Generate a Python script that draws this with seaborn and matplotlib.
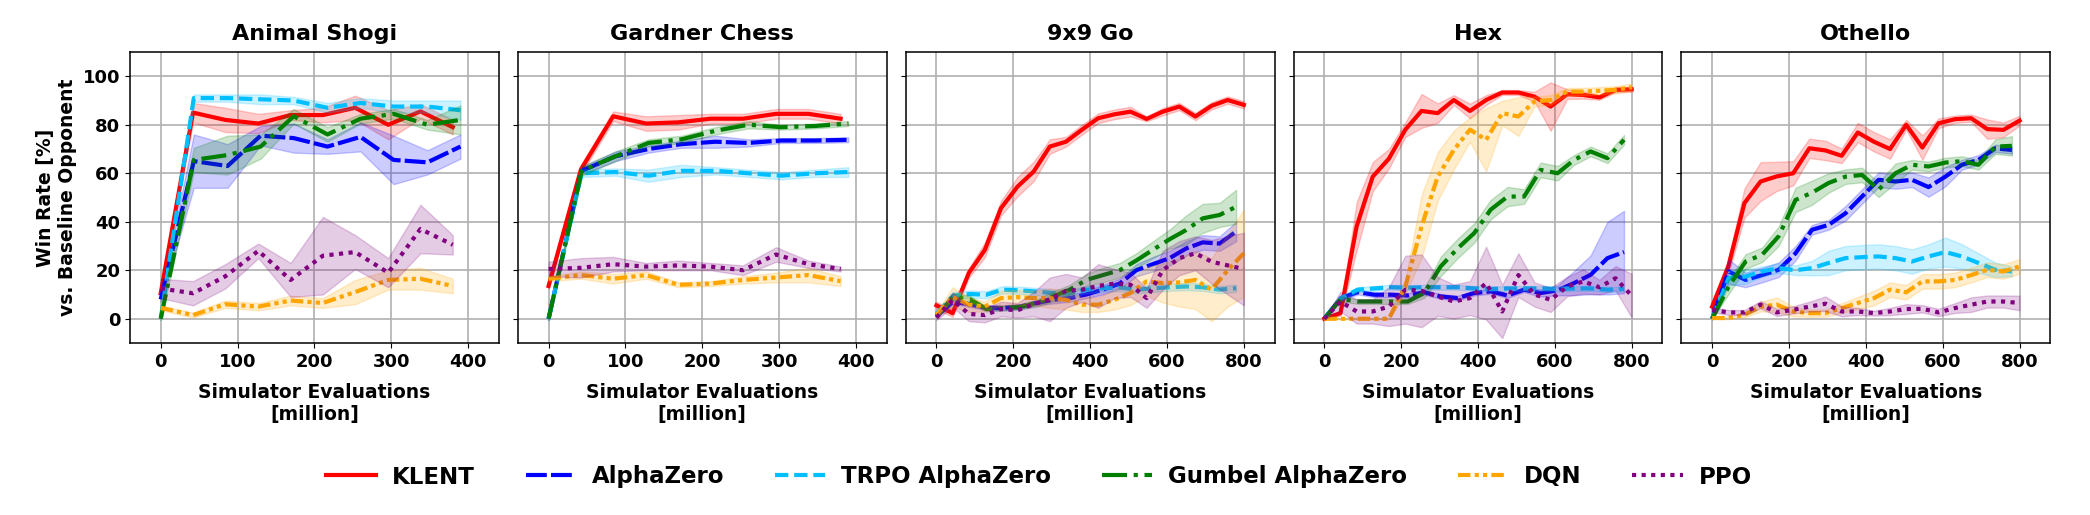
import matplotlib
matplotlib.use("Agg")
import matplotlib.pyplot as plt
import seaborn as sns
import numpy as np
import pandas as pd
from matplotlib.lines import Line2D

# ---------------- data ----------------
games = ["Animal Shogi", "Gardner Chess", "9x9 Go", "Hex", "Othello"]
methods = ["KLENT", "AlphaZero", "TRPO AlphaZero", "Gumbel AlphaZero", "DQN", "PPO"]
colors = ["red", "blue", "deepskyblue", "green", "orange", "purple"]

# evaluation points [million]
X400_A = [0, 42, 84, 127, 169, 211, 253, 296, 338, 380]
X400_B = [0, 43, 87, 130, 173, 217, 260, 303, 347, 390]
X800_A = [0, 42, 84, 126, 168, 211, 253, 295, 337, 379, 421, 463, 505, 547, 589, 632, 674, 716, 758, 800]
X800_B = [0, 43, 87, 130, 173, 217, 260, 303, 347, 390, 433, 477, 520, 563, 607, 650, 693, 737, 780]

# Animal Shogi
shogi_klent = [10.5, 85, 82, 80.5, 84, 84, 87, 80, 85.5, 79]
shogi_klent_err = [1, 4, 5, 4, 2, 3, 5, 6, 3, 3]
shogi_az = [8, 65, 63, 75.5, 74.5, 71, 75, 65.5, 64.5, 71]
shogi_az_err = [1, 11, 9, 4, 6, 3, 6, 10, 5, 5]
shogi_trpo = [0, 91, 91, 90.5, 90, 87, 89, 87.5, 87.5, 86]
shogi_trpo_err = [0.5, 1.5, 1.5, 2, 1.5, 2, 2, 2.5, 2.5, 4]
shogi_gumbel = [0, 65.5, 67.5, 71, 83.5, 76, 82.5, 84.5, 80, 82]
shogi_gumbel_err = [0.5, 5, 8, 5, 3, 3, 2, 2, 2, 6]
shogi_dqn = [4.5, 1.5, 6, 5, 7.5, 6.5, 11, 16, 16.5, 13.5]
shogi_dqn_err = [1, 1, 1.5, 1.5, 2, 2, 5, 4, 4.5, 3]
shogi_ppo = [12.5, 10.5, 17.5, 28, 16, 26, 27.5, 19, 37, 30.5]
shogi_ppo_err = [4, 5, 5, 3, 7, 16, 7, 6, 10, 4]

# Gardner Chess
chess_klent = [13.5, 61.5, 83.5, 80.5, 81, 82.5, 82.5, 84.5, 84.5, 82.5]
chess_klent_err = [1, 2, 2, 3, 3, 2, 2, 2, 2, 2]
chess_az = [0, 61, 67, 70, 72, 73, 72.5, 73.5, 73.5, 73.8]
chess_az_err = [0.5, 1.5, 2, 1.5, 1.5, 2.5, 1.5, 1, 1, 1]
chess_trpo = [0, 60, 60.5, 59, 61, 61, 60, 59, 60, 60.5]
chess_trpo_err = [0.5, 1.5, 1.5, 2.5, 2.5, 1.5, 1.5, 1.5, 1.5, 2]
chess_gumbel = [0, 61, 67, 72.5, 74, 77.5, 80, 79, 79.5, 80.5]
chess_gumbel_err = [0.5, 2, 2, 1.5, 1.5, 1.5, 1.5, 1, 1, 1]
chess_dqn = [16.5, 18, 16.5, 18, 14, 14.5, 16, 17, 18, 15.5]
chess_dqn_err = [1, 1.5, 2, 1.5, 1, 1, 1.5, 2, 3, 2]
chess_ppo = [20.5, 21, 22.5, 21.5, 22, 21.5, 20, 26.5, 22.5, 20.5]
chess_ppo_err = [3, 4, 3, 1.5, 2, 1.5, 2, 3, 1.5, 1]

# 9x9 Go
go_klent = [5.5, 2.3, 18.8, 28.4, 45.6, 54.5, 60.7, 71, 73, 78, 82.7, 84.3, 85.4, 82.4, 85.4, 87.5, 83.4, 87.8, 90.2, 88.2]
go_klent_err = [1.5, 1.5, 2, 3, 3, 4, 4, 3, 2, 2, 2, 2, 2, 1, 1.5, 1.5, 1.5, 1.5, 1.5, 1.5]
go_az = [1, 7, 6, 4.5, 4.5, 5, 6.5, 7.8, 8.5, 10, 12, 14.5, 20, 22.5, 25, 29, 31.5, 31, 36]
go_az_err = [0.5, 1, 1, 1, 1, 1, 1, 1.5, 1.5, 1.5, 2, 2, 2.5, 3, 3, 3, 3, 3, 4]
go_trpo = [2, 9.5, 10.2, 9.9, 12, 11.7, 11.2, 10.6, 10.3, 12, 12.6, 12.9, 12, 12.5, 13, 13.3, 13, 12, 12.6]
go_trpo_err = [1, 1.5, 1.5, 1.5, 1.5, 1.5, 1.5, 1.5, 1.5, 1.5, 1.5, 1.5, 1.5, 1.5, 1.5, 1.5, 1.5, 1.5, 1.5]
go_gumbel = [1, 9, 8, 4, 4.4, 4.8, 6.4, 9.2, 12, 16, 18, 20, 24, 28.4, 32.8, 36.6, 41.4, 42.8, 46.2]
go_gumbel_err = [0.5, 1.5, 1.5, 1, 1, 1, 1.5, 2, 2, 2.5, 3, 3, 3, 3.5, 4, 6, 6, 5, 7]
go_dqn = [1.6, 9, 5.8, 5, 8.5, 8.9, 8.5, 8.5, 7.8, 5.8, 5.8, 7.8, 10.6, 15.4, 14.7, 15, 16, 12, 20, 27]
go_dqn_err = [1, 4, 3, 2, 3, 3, 3, 4, 4, 3, 3, 4, 5, 6, 8, 10, 12, 13, 15, 18]
go_ppo = [0.5, 7.8, 2, 1.5, 4, 3.5, 6, 8, 11.5, 12, 13.5, 14.5, 14, 8.5, 20, 25, 27, 23.5, 22, 20.5]
go_ppo_err = [1, 3, 3, 3, 3, 3, 5, 9, 7, 5, 9, 6, 5, 4, 8, 7, 7, 9, 12, 15]

# Hex
hex_klent = [0, 2.3, 38, 58.6, 66, 78, 85.7, 84.8, 90.2, 85.7, 90.2, 93.3, 93.3, 91.6, 87.5, 92.6, 92.3, 91.3, 94.4, 94.6]
hex_klent_err = [0.5, 1, 10, 6, 4, 3, 7, 4, 2, 3, 2, 1, 1, 2, 10, 2, 1.5, 1, 1, 1]
hex_az = [0, 8.5, 11, 9.9, 9.9, 9.6, 10.9, 9.2, 8.5, 10.6, 11.3, 9.6, 12, 10.6, 11.7, 14.7, 18.1, 25, 27.5]
hex_az_err = [0.3, 1, 1, 1, 1, 1, 1, 1, 1, 1, 1, 1, 1, 1.5, 2, 5, 8, 15, 17]
hex_trpo = [0, 8.5, 12, 12.5, 13, 12.8, 13, 13, 13, 12.5, 12.3, 12.5, 12.5, 12.5, 12.3, 12.5, 12.5, 12, 12.3]
hex_trpo_err = [0.3, 1, 1, 1, 1, 1, 1, 1, 1, 1, 1, 1, 1, 1, 1, 1, 1, 1, 1]
hex_gumbel = [0, 8.2, 7.1, 7.1, 7.1, 7.1, 10.6, 21.6, 29, 35.3, 45, 50.4, 50.4, 61.4, 60, 65.5, 69, 66.2, 73.8]
hex_gumbel_err = [0.3, 1, 1, 1, 1, 1, 2, 4, 4, 4, 4, 4, 3, 3, 3, 2, 2, 2, 2]
hex_dqn = [0, 0, 0, 0, 0, 13.3, 38, 58.6, 69.6, 78, 73.8, 84.8, 83.4, 89.6, 90.2, 93.7, 93.7, 94, 94.4, 95.5]
hex_dqn_err = [0.3, 0.3, 0.3, 0.3, 0.3, 3, 13, 10, 8, 5, 13, 5, 8, 2, 2, 1.5, 1.5, 1.5, 1.5, 1.5]
hex_ppo = [0, 7.1, 3, 3, 5, 12, 11.5, 9.2, 7.1, 8.5, 14.7, 3, 18, 10, 7.8, 13.3, 15.4, 13, 16.7, 9.5]
hex_ppo_err = [0.3, 4, 5, 5, 8, 14, 15, 8, 7, 7, 15, 11, 9, 5, 5, 4, 5, 3, 5, 9]

# Othello
oth_klent = [5, 21.6, 47.7, 56.6, 58.7, 60, 70.3, 69.4, 67.2, 76.8, 73, 70, 80, 70.6, 80.6, 82.3, 82.7, 78.2, 77.9, 81.7]
oth_klent_err = [1, 3, 6, 8, 6, 5, 4, 4, 3, 4, 4, 4, 2, 5, 2, 1.5, 1.5, 4, 3, 2]
oth_az = [0, 19.5, 16, 18, 20.2, 27, 36.7, 38.7, 43.5, 50.4, 57.3, 56.6, 57.3, 54.3, 58.6, 63.5, 65.5, 70.3, 69.6]
oth_az_err = [0.3, 5, 3, 3, 3, 3, 2, 2, 3, 3, 3, 3, 3, 4, 4, 2, 2, 1.5, 1.5]
oth_trpo = [0, 16.8, 17.4, 19.5, 20.9, 20, 20.9, 23, 25, 25.4, 25.7, 25, 23.6, 25.7, 27.5, 25.7, 23, 20.2, 19.5]
oth_trpo_err = [0.3, 3, 3, 2, 2, 2, 3, 5, 5, 5, 5, 5, 5, 5, 6, 5, 4, 3, 2]
oth_gumbel = [0, 13.3, 23.6, 26.4, 34, 49, 52, 56, 58.6, 59.3, 53.2, 60, 63.5, 62.8, 64.4, 65, 63.5, 71, 71.3]
oth_gumbel_err = [0.3, 3, 3, 3, 4, 5, 5, 4, 3, 3, 3, 4, 2, 2, 2, 2, 2, 3, 4]
oth_dqn = [0.3, 0.3, 1.6, 5, 5.8, 3, 2.3, 2.3, 4.4, 6.5, 8.5, 12, 10.9, 15.4, 15.4, 16, 18, 20.2, 19.5, 21.6]
oth_dqn_err = [0.3, 0.5, 1, 2, 3, 2, 1.5, 1.5, 2, 2.5, 3, 3, 3, 3, 3, 3, 3, 3, 3, 3]
oth_ppo = [3.7, 2.6, 2.6, 5.8, 2.6, 3.7, 5, 6.2, 3, 3, 2.3, 3, 4, 4.1, 2.6, 4.4, 5.8, 7.1, 7.1, 6.5]
oth_ppo_err = [1, 1, 1, 1.5, 1.5, 1.5, 2, 3, 2, 1.5, 1, 1.5, 2, 1.5, 1.5, 2, 3, 2.5, 2.5, 3]

panels = [
    (games[0], [X400_A, X400_B, X400_B, X400_B, X400_A, X400_A],
     [(shogi_klent, shogi_klent_err), (shogi_az, shogi_az_err), (shogi_trpo, shogi_trpo_err),
      (shogi_gumbel, shogi_gumbel_err), (shogi_dqn, shogi_dqn_err), (shogi_ppo, shogi_ppo_err)], 400),
    (games[1], [X400_A, X400_B, X400_B, X400_B, X400_A, X400_A],
     [(chess_klent, chess_klent_err), (chess_az, chess_az_err), (chess_trpo, chess_trpo_err),
      (chess_gumbel, chess_gumbel_err), (chess_dqn, chess_dqn_err), (chess_ppo, chess_ppo_err)], 400),
    (games[2], [X800_A, X800_B, X800_B, X800_B, X800_A, X800_A],
     [(go_klent, go_klent_err), (go_az, go_az_err), (go_trpo, go_trpo_err),
      (go_gumbel, go_gumbel_err), (go_dqn, go_dqn_err), (go_ppo, go_ppo_err)], 800),
    (games[3], [X800_A, X800_B, X800_B, X800_B, X800_A, X800_A],
     [(hex_klent, hex_klent_err), (hex_az, hex_az_err), (hex_trpo, hex_trpo_err),
      (hex_gumbel, hex_gumbel_err), (hex_dqn, hex_dqn_err), (hex_ppo, hex_ppo_err)], 800),
    (games[4], [X800_A, X800_B, X800_B, X800_B, X800_A, X800_A],
     [(oth_klent, oth_klent_err), (oth_az, oth_az_err), (oth_trpo, oth_trpo_err),
      (oth_gumbel, oth_gumbel_err), (oth_dqn, oth_dqn_err), (oth_ppo, oth_ppo_err)], 800),
]

linestyles = ["-", (0, (5, 1)), (0, (3.2, 1.4)), (0, (6, 1.6, 1, 1.6)), (0, (3, 1, 1, 1, 1, 1)), (0, (1, 1.3))]

# ---------------- plot ----------------
plt.rcParams["font.family"] = ["DejaVu Sans"]
plt.rcParams["font.weight"] = "bold"
plt.rcParams["axes.titleweight"] = "bold"
plt.rcParams["axes.labelweight"] = "bold"

fig, axes = plt.subplots(1, 5, figsize=(20.9, 5.15), dpi=100, sharey=True)
fig.subplots_adjust(left=0.0622, right=0.981, top=0.899, bottom=0.334, wspace=0.0515)

LW = 3.0
for ax, (title, xs, series, xmax) in zip(axes, panels):
    for i, (m, c, ls) in enumerate(zip(methods, colors, linestyles)):
        mean, err = series[i]
        x = np.array(xs[i], dtype=float)
        y = np.array(mean, dtype=float)
        e = np.array(err, dtype=float)
        ax.fill_between(x, y - e, y + e, color=c, alpha=0.2, lw=1, zorder=2 + i)
        df = pd.DataFrame({"x": x, "y": y})
        sns.lineplot(data=df, x="x", y="y", ax=ax, color=c, linestyle=ls, lw=LW,
                     zorder=3 + i, legend=False)
    ax.set_title(title, fontsize=16, fontweight="bold", pad=9)
    ax.set_xlim(-0.1 * xmax, 1.1 * xmax)
    ax.set_ylim(-10, 110)
    ax.set_xticks(np.arange(0, xmax + 1, xmax // 4))
    ax.set_yticks([0, 20, 40, 60, 80, 100])
    ax.grid(True, color="#b0b0b0", lw=1.2)
    ax.set_axisbelow(True)
    ax.tick_params(labelsize=13)
    for lab in ax.get_xticklabels() + ax.get_yticklabels():
        lab.set_fontweight("bold")
    ax.set_xlabel("Simulator Evaluations\n[million]", fontsize=13.5, fontweight="bold", labelpad=9)
    ax.set_ylabel("")
    for s in ax.spines.values():
        s.set_linewidth(1.1)

axes[0].set_ylabel("Win Rate [%]\nvs. Baseline Opponent", fontsize=13.5, fontweight="bold", labelpad=4)

handles = [Line2D([0], [0], color=c, linestyle=ls, lw=LW) for c, ls in zip(colors, linestyles)]
fig.legend(handles, methods, loc="center", bbox_to_anchor=(0.497, 1 - 477 / 515), ncol=6,
           frameon=False, prop={"size": 16.5, "weight": "bold"}, handlelength=2.2,
           columnspacing=2.2, handletextpad=0.7)

fig.savefig("out.png", dpi=100)
